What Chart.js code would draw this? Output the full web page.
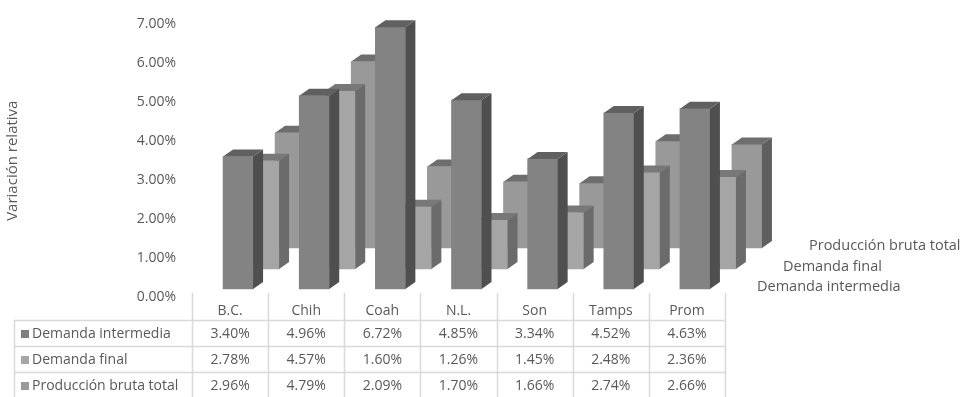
<!DOCTYPE html>
<html>
<head>
<meta charset="utf-8">
<script src="https://cdn.jsdelivr.net/npm/chart.js@4.4.1/dist/chart.umd.min.js"></script>
<style>
    html, body { margin: 0; padding: 0; background: #fff; }
    #wrap { width: 968px; height: 397px; position: relative; }
</style>
</head>
<body>
<div id="wrap"><canvas id="chart" width="968" height="397"></canvas></div>
<script>
const categories = ['B.C.', 'Chih', 'Coah', 'N.L.', 'Son', 'Tamps', 'Prom'];
const seriesNames = ['Demanda intermedia', 'Demanda final', 'Producción bruta total'];
const demandaIntermedia = [3.40, 4.96, 6.72, 4.85, 3.34, 4.52, 4.63];
const demandaFinal = [2.78, 4.57, 1.60, 1.26, 1.45, 2.48, 2.36];
const produccionBruta = [2.96, 4.79, 2.09, 1.70, 1.66, 2.74, 2.66];
const yTicks = [0, 1, 2, 3, 4, 5, 6, 7];

const FONT = '"Open Sans", sans-serif';
const TEXT = '#595959';
const GRID = '#d9d9d9';

// face colours per series: front, side, top
const faces = [
    { front: '#838383', side: '#4f4f4f', top: '#606060', key: '#7f7f7f' },
    { front: '#a5a5a5', side: '#6b6b6b', top: '#787878', key: '#a6a6a6' },
    { front: '#999999', side: '#5e5e5e', top: '#6e6e6e', key: '#999999' }
];
// how far each series row sits back in the 3D depth
const depth = [{ dx: 8, dy: 8 }, { dx: 34, dy: 28 }, { dx: 60, dy: 49 }];
const SIDE_W = 10;
const TOP_H = 7;

const bars3d = {
    id: 'bars3d',
    beforeDatasetDraw(chart, args) {
        const d = depth[args.index];
        chart.ctx.save();
        chart.ctx.translate(d.dx, -d.dy);
    },
    afterDatasetDraw(chart, args) {
        const ctx = chart.ctx;
        const f = faces[args.index];
        args.meta.data.forEach(el => {
            const { x, y, base, width } = el.getProps(['x', 'y', 'base', 'width'], true);
            const l = x - width / 2, r = x + width / 2;
            // side face
            ctx.fillStyle = f.side;
            ctx.beginPath();
            ctx.moveTo(r, y);
            ctx.lineTo(r + SIDE_W, y - TOP_H);
            ctx.lineTo(r + SIDE_W, base - TOP_H);
            ctx.lineTo(r, base);
            ctx.closePath();
            ctx.fill();
            // top face
            ctx.fillStyle = f.top;
            ctx.beginPath();
            ctx.moveTo(l, y);
            ctx.lineTo(l + SIDE_W, y - TOP_H);
            ctx.lineTo(r + SIDE_W, y - TOP_H);
            ctx.lineTo(r, y);
            ctx.closePath();
            ctx.fill();
        });
        ctx.restore();
    }
};

const dataTable = {
    id: 'dataTable',
    afterDraw(chart) {
        const ctx = chart.ctx;
        const xs = chart.scales.x;
        const ys = chart.scales.y;
        const area = chart.chartArea;
        const step = xs.getPixelForValue(1) - xs.getPixelForValue(0);
        const rows = [demandaIntermedia, demandaFinal, produccionBruta];
        const headerTop = 293, rowTop = 320, rowH = 26, tableLeft = 14;

        ctx.save();
        ctx.strokeStyle = GRID;
        ctx.lineWidth = 1.5;
        ctx.beginPath();
        for (let k = 0; k <= categories.length; k++) {
            const x = Math.round(area.left + k * step) + 0.5;
            ctx.moveTo(x, headerTop);
            ctx.lineTo(x, 397);
        }
        ctx.moveTo(tableLeft + 0.5, rowTop);
        ctx.lineTo(tableLeft + 0.5, 397);
        for (let r = 0; r < 4; r++) {
            const y = rowTop + r * rowH + 0.5;
            ctx.moveTo(tableLeft, y);
            ctx.lineTo(area.right + 1, y);
        }
        ctx.stroke();

        ctx.fillStyle = TEXT;
        ctx.font = '14px ' + FONT;
        ctx.textAlign = 'center';
        ctx.textBaseline = 'middle';
        categories.forEach((c, i) => {
            ctx.fillText(c, xs.getPixelForValue(i), 311);
        });
        rows.forEach((vals, r) => {
            const y = rowTop + r * rowH + rowH / 2 + 1;
            vals.forEach((v, i) => {
                ctx.fillText(v.toFixed(2) + '%', xs.getPixelForValue(i), y);
            });
        });

        ctx.textAlign = 'left';
        seriesNames.forEach((name, r) => {
            const y = rowTop + r * rowH + rowH / 2 + 1;
            ctx.fillStyle = faces[r].key;
            ctx.fillRect(21, y - 4, 8, 8);
            ctx.fillStyle = TEXT;
            ctx.fillText(name, 32, y);
        });

        // depth axis labels on the right
        ctx.font = '14.5px ' + FONT;
        const zero = ys.getPixelForValue(0);
        seriesNames.forEach((name, s) => {
            ctx.fillText(name, area.right + 24 + depth[s].dx, zero - depth[s].dy - 2);
        });
        ctx.restore();
    }
};

const datasets = [demandaIntermedia, demandaFinal, produccionBruta].map((vals, s) => ({
    label: seriesNames[s],
    data: vals,
    backgroundColor: faces[s].front,
    borderWidth: 0,
    barThickness: 30,
    grouped: false,
    clip: false
}));

new Chart(document.getElementById('chart'), {
    type: 'bar',
    data: { labels: categories, datasets },
    options: {
        responsive: false,
        animation: false,
        events: [],
        layout: { padding: { top: 17, bottom: 100, right: 243, left: 0 } },
        plugins: { legend: { display: false }, tooltip: { enabled: false } },
        scales: {
            x: { display: false },
            y: {
                min: 0,
                max: 7,
                afterFit(scale) { scale.width = 192; },
                afterBuildTicks(scale) { scale.ticks = yTicks.map(v => ({ value: v })); },
                grid: { display: false, drawTicks: false },
                border: { display: false },
                ticks: {
                    padding: 16,
                    color: TEXT,
                    font: { family: FONT, size: 14 },
                    callback: v => v.toFixed(2) + '%'
                },
                title: {
                    display: true,
                    text: 'Variación relativa',
                    color: TEXT,
                    font: { family: FONT, size: 15 },
                    padding: { top: 4, bottom: 0 }
                }
            }
        }
    },
    plugins: [bars3d, dataTable]
});
</script>
</body>
</html>
